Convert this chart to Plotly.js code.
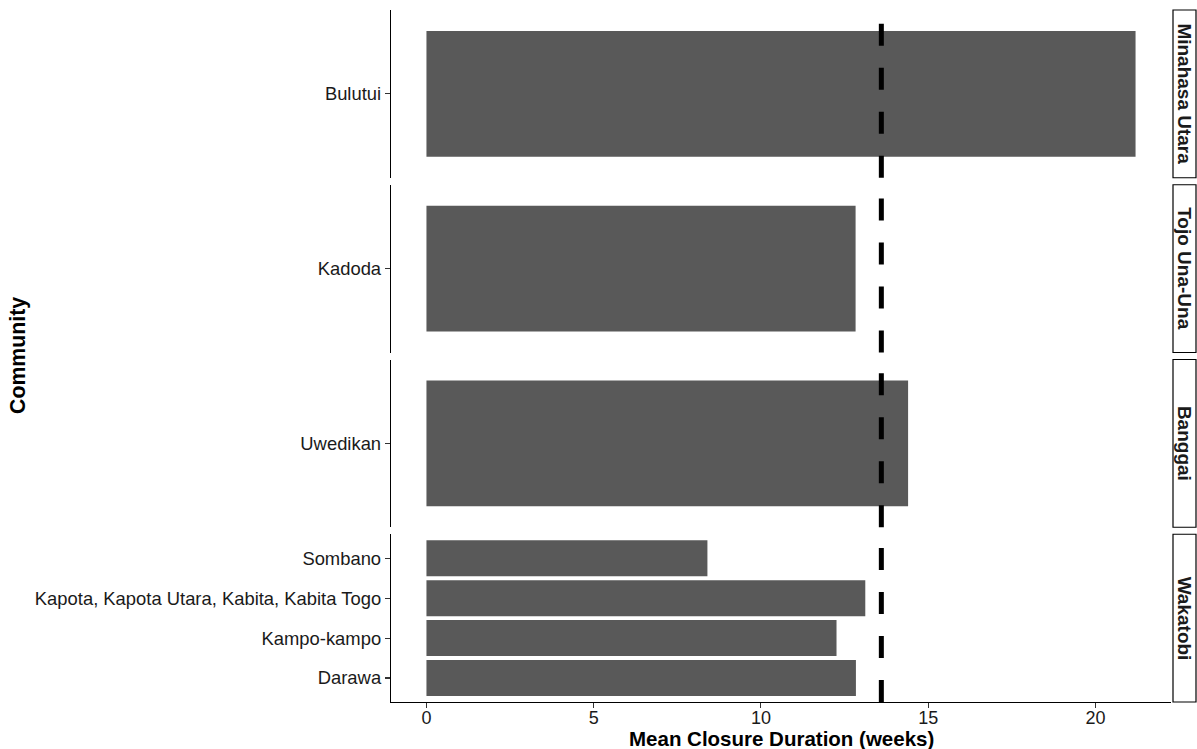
<!DOCTYPE html>
<html>
<head>
<meta charset="utf-8">
<script src="https://cdn.plot.ly/plotly-3.0.1.min.js"></script>
<style>html,body{margin:0;padding:0;background:#fff;}#chart{width:1197px;height:749px;}</style>
</head>
<body>
<div id="chart"></div>
<script>
// Facets (top to bottom)
const facets = ["Minahasa Utara", "Tojo Una-Una", "Banggai", "Wakatobi"];
// Communities per facet (bottom to top within panel)
const communitiesMinahasa = ["Bulutui"];
const communitiesTojo = ["Kadoda"];
const communitiesBanggai = ["Uwedikan"];
const communitiesWakatobi = ["Darawa", "Kampo-kampo", "Kapota, Kapota Utara, Kabita, Kabita Togo", "Sombano"];
// Mean closure duration (weeks)
const valuesMinahasa = [21.2];
const valuesTojo = [12.83];
const valuesBanggai = [14.4];
const valuesWakatobi = [12.84, 12.26, 13.12, 8.4];
// Overall mean (dashed line)
const overallMean = 13.6;
const xTicks = [0, 5, 10, 15, 20];

const groups = [
  {cats: communitiesMinahasa, vals: valuesMinahasa},
  {cats: communitiesTojo, vals: valuesTojo},
  {cats: communitiesBanggai, vals: valuesBanggai},
  {cats: communitiesWakatobi, vals: valuesWakatobi}
];

const gap = 7 / 692;
const h = (1 - 3 * gap) / 4;
const domains = [];
for (let i = 0; i < 4; i++) {
  const top = 1 - i * (h + gap);
  domains.push([Math.max(0, top - h), top]);
}
domains[3][0] = 0;

const barColor = "#595959";
const FONT = "Liberation Sans, Arial, sans-serif";
const tickFont = {family: FONT, size: 18.4, color: "#1a1a1a"};

const traces = [];
const layout = {
  width: 1197, height: 749,
  margin: {l: 391, r: 26, t: 10, b: 47},
  paper_bgcolor: "#fff", plot_bgcolor: "#fff",
  showlegend: false,
  bargap: 0.1,
  xaxis: {
    range: [-1.06, 22.26], anchor: "y4",
    tickvals: xTicks, ticktext: xTicks.map(String),
    showline: true, linecolor: "#000", linewidth: 1.2,
    ticks: "outside", ticklen: 5, tickcolor: "#333", tickwidth: 1.1,
    showgrid: false, zeroline: false,
    tickfont: {family: FONT, size: 18, color: "#1a1a1a"}, ticklabelstandoff: -6
  },
  shapes: [],
  annotations: []
};

groups.forEach((g, i) => {
  const yname = i === 0 ? "y" : "y" + (i + 1);
  const yKey = i === 0 ? "yaxis" : "yaxis" + (i + 1);
  traces.push({
    type: "bar", orientation: "h",
    x: g.vals, y: g.cats,
    xaxis: "x", yaxis: yname,
    width: 0.9,
    marker: {color: barColor, line: {width: 0}},
    hoverinfo: "x+y"
  });
  layout[yKey] = {
    domain: domains[i], anchor: "x",
    type: "category", categoryorder: "array", categoryarray: g.cats,
    range: [-0.6, g.cats.length - 0.4],
    showline: true, linecolor: "#000", linewidth: 1.2,
    ticks: "outside", ticklen: 5, tickcolor: "#333", tickwidth: 1.1,
    showgrid: false, zeroline: false,
    tickfont: tickFont, ticklabelstandoff: 0
  };
  // dashed mean line
  layout.shapes.push({
    type: "line", xref: "x", yref: yname + " domain",
    x0: overallMean, x1: overallMean, y0: 0, y1: 1,
    line: {color: "#000", width: 5, dash: "22px,22px"}
  });
  // strip box
  layout.shapes.push({
    type: "rect", xref: "paper", yref: "paper",
    x0: (1173 - 391) / 780, x1: (1196 - 391) / 780,
    y0: domains[i][0], y1: domains[i][1],
    fillcolor: "#fff", line: {color: "#000", width: 1.2}
  });
  layout.annotations.push({
    xref: "paper", yref: "paper",
    x: (1184.5 - 391) / 780, y: (domains[i][0] + domains[i][1]) / 2,
    text: "<b>" + facets[i] + "</b>", textangle: 90, showarrow: false,
    font: {family: FONT, size: 19, color: "#1a1a1a"},
    xanchor: "center", yanchor: "middle"
  });
});

// axis titles
layout.annotations.push({
  xref: "paper", yref: "paper",
  x: 0.5, y: (702 - 738) / 692,
  text: "<b>Mean Closure Duration (weeks)</b>", showarrow: false,
  font: {family: FONT, size: 20.5, color: "#000"},
  xanchor: "center", yanchor: "middle", borderpad: 0
});
layout.annotations.push({
  xref: "paper", yref: "paper",
  x: (18 - 391) / 780, y: (702 - 356) / 692,
  text: "<b>Community</b>", textangle: -90, showarrow: false,
  font: {family: FONT, size: 21.3, color: "#000"},
  xanchor: "center", yanchor: "middle"
});

Plotly.newPlot("chart", traces, layout, {displayModeBar: false, staticPlot: true});
</script>
</body>
</html>
